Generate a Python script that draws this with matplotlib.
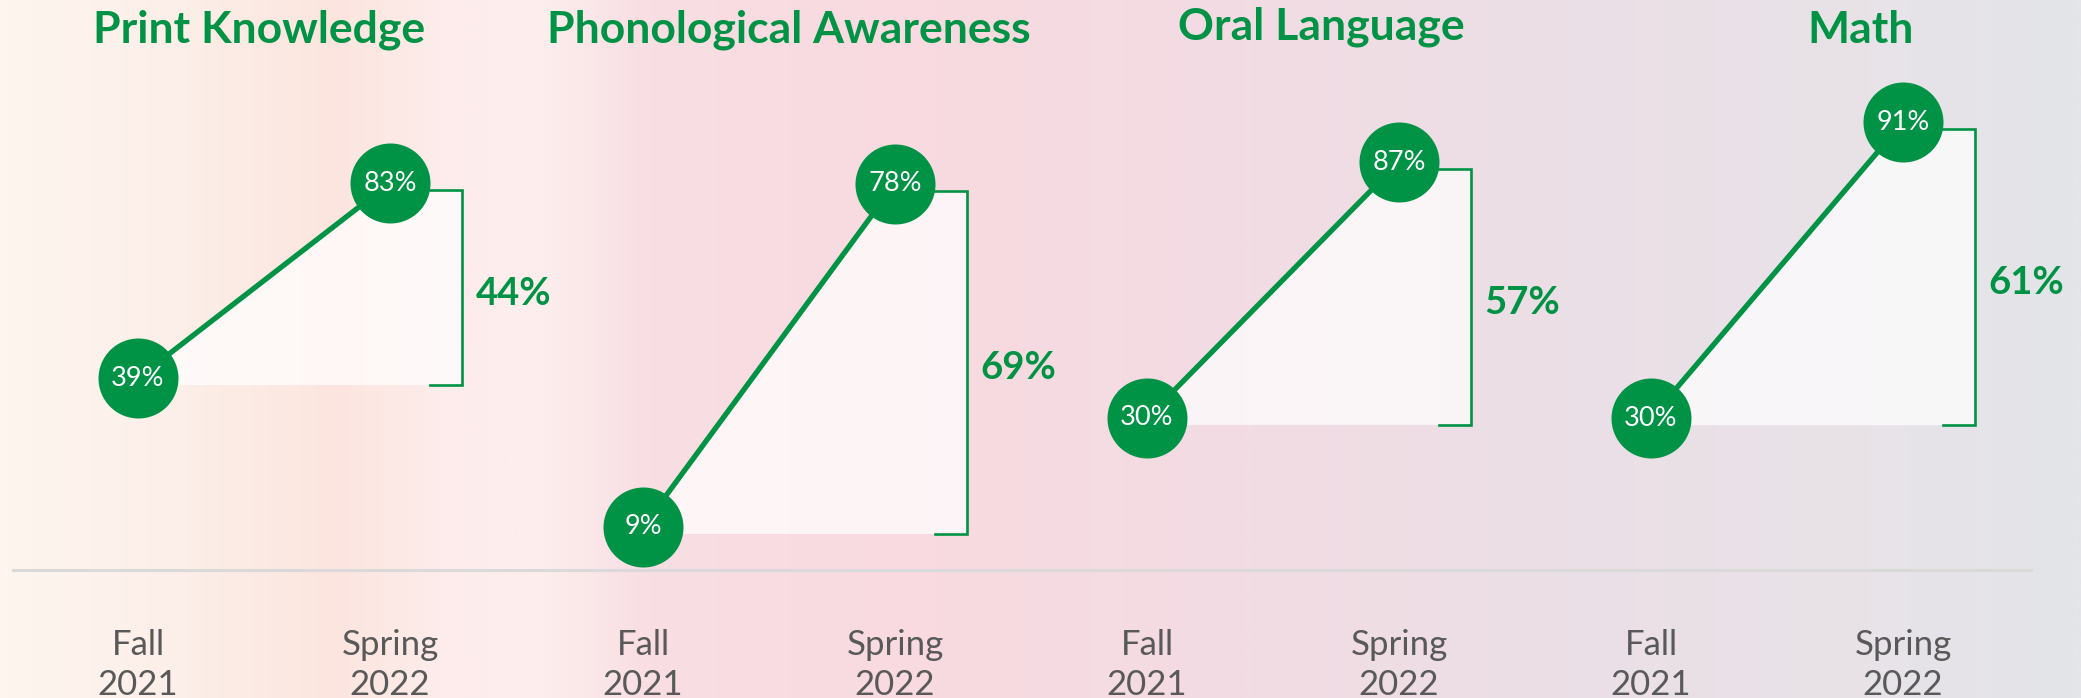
import numpy as np
import matplotlib
matplotlib.use("Agg")
import matplotlib.pyplot as plt
from matplotlib.colors import LinearSegmentedColormap

# data
subjects = ["Print Knowledge", "Phonological Awareness", "Oral Language", "Math"]
fall_2021 = [39, 9, 30, 30]
spring_2022 = [83, 78, 87, 91]
gains = [44, 69, 57, 61]
periods = ["Fall\n2021", "Spring\n2022"]

# layout (pixels of the 2081x698 canvas)
W, H = 2081, 698
panel_left = [12, 517, 1021, 1525]
panel_ylim = [(-33.2, 124.3), (-25.4, 115.0), (-32.4, 123.1), (-27.7, 116.2)]
title_x = [0.48, 0.58, 0.69, 0.83]
title_y = [30, 30, 27, 30]

GREEN = "#009245"
GRAY = "#595959"
FONT = "Lato"

fig = plt.figure(figsize=(W / 100, H / 100), dpi=100)

# soft horizontal gradient background
bg = fig.add_axes([0, 0, 1, 1])
stops = [(0.0, "#fef5ef"), (0.07, "#fdf0ea"), (0.16, "#fce5df"), (0.21, "#fdeceb"),
         (0.26, "#fdeeee"), (0.31, "#f9dee3"), (0.45, "#f8dae0"), (0.6, "#f3dce4"),
         (0.75, "#ebdfe6"), (0.9, "#e8e3e8"), (1.0, "#e3e5e9")]
cmap = LinearSegmentedColormap.from_list("bg", stops)
bg.imshow(np.linspace(0, 1, 1024)[None, :], cmap=cmap, aspect="auto",
          extent=[0, 1, 0, 1])
bg.plot([13 / W, 2031 / W], [1 - 570 / H] * 2, color="#d9d9d9", lw=2.2)
bg.set_xlim(0, 1)
bg.set_ylim(0, 1)
bg.axis("off")

bx = 1.285      # bracket position in panel x units
tick0 = 1.16    # bracket tick start

for i in range(4):
    ax = fig.add_axes([panel_left[i] / W, 0, 504 / W, 1])
    ax.set_xlim(-0.5, 1.5)
    ax.set_ylim(*panel_ylim[i])
    ax.axis("off")
    ax.patch.set_alpha(0)

    v0, v1 = fall_2021[i], spring_2022[i]
    ymin, ymax = panel_ylim[i]
    d = 7 * (ymax - ymin) / H   # bracket sits a few px below the dots

    # light area under the line
    ax.fill([0, 0, 1, 1, bx, bx], [v0 - d, v0, v1, v1 - d, v1 - d, v0 - d],
            color="white", alpha=0.72, lw=0, zorder=1)

    # bracket
    ax.plot([tick0, bx, bx, tick0], [v1 - d, v1 - d, v0 - d, v0 - d],
            color=GREEN, lw=1.9, zorder=2, solid_joinstyle="miter")

    # line + dots
    ax.plot([0, 1], [v0, v1], color=GREEN, lw=3.8, zorder=3)
    ax.plot([0, 1], [v0, v1], "o", color=GREEN, markersize=57.6,
            markeredgewidth=0, zorder=4)
    for x, v in zip([0, 1], [v0, v1]):
        ax.text(x, v, f"{v}%", ha="center", va="center", color="white",
                fontsize=19.5, family=FONT, zorder=5)

    ax.annotate(f"{gains[i]}%", xy=(1.49, (v0 + v1) / 2 - d), xytext=(0, -6),
                textcoords="offset pixels", ha="center", va="center",
                color=GREEN, fontsize=27.5, fontweight="bold", family=FONT)

    ax.text(title_x[i], 1 - title_y[i] / H, subjects[i], transform=ax.get_xaxis_transform(),
            ha="center", va="center", color=GREEN, fontsize=32, fontweight="bold",
            family=FONT)

    for x, lab in zip([0, 1], periods):
        ax.text(x, 1 - 665 / H, lab, transform=ax.get_xaxis_transform(),
                ha="center", va="center", color=GRAY, fontsize=25, family=FONT,
                linespacing=1.3)

fig.savefig("out.png", dpi=100)
